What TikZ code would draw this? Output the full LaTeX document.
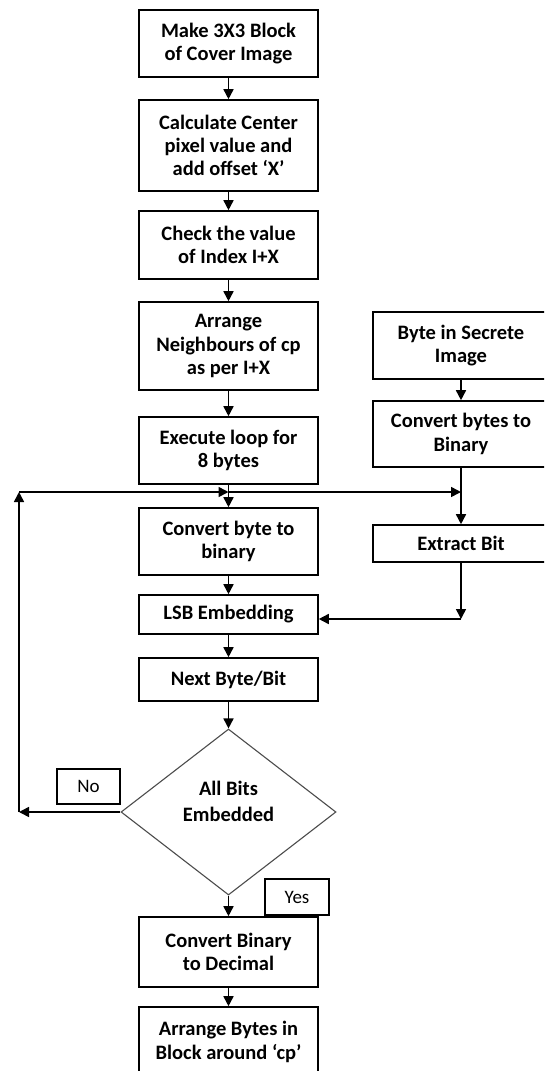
\documentclass[tikz,border=0pt]{standalone}
\usepackage{fontspec}
\setmainfont{Carlito}
\usetikzlibrary{arrows.meta,shapes.geometric}
\tikzset{
  box/.style={draw=black, line width=1.6pt, rectangle, minimum width=179pt, inner sep=0pt, align=center, font=\bfseries\fontsize{20.5}{23.3}\selectfont},
  rbox/.style={box, minimum width=176pt},
  lbl/.style={draw=black, line width=1.4pt, rectangle, inner sep=0pt, align=center, font=\fontsize{19}{22}\selectfont},
  dec/.style={draw=black!70, line width=1.1pt, diamond, aspect=1.3, inner sep=0pt, minimum width=215pt, minimum height=166pt, align=center, font=\bfseries\fontsize{20.5}{26}\selectfont},
  arr/.style={line width=1.6pt, -{Triangle[length=10pt,width=10pt]}}
}
\begin{document}
\begin{tikzpicture}[x=1pt,y=-1pt]
\useasboundingbox (0,0) rectangle (544,1071);
\clip (0,0) rectangle (544,1071);
\fill[white] (0,0) rectangle (544,1071);
% left column
\node[box, minimum height=67pt] (b1) at (228.5,43.5) {Make 3X3 Block\\of Cover Image};
\node[box, minimum height=91pt] (b2) at (228.5,145.5) {Calculate Center\\pixel value and\\add offset ‘X’};
\node[box, minimum height=68pt] (b3) at (228.5,245) {Check the value\\of Index I+X};
\node[box, minimum height=88pt] (b4) at (228.5,346) {Arrange\\Neighbours of cp\\as per I+X};
\node[box, minimum height=67pt] (b5) at (228.5,450.5) {Execute loop for\\8 bytes};
\node[box, minimum height=67pt] (b6) at (228.5,541.5) {Convert byte to\\binary};
\node[box, minimum height=39pt] (b7) at (228.5,614.5) {LSB Embedding};
\node[box, minimum height=43pt] (b8) at (228.5,679.5) {Next Byte/Bit};
\node[dec] (d) at (228.5,812) {All Bits\\Embedded\\[-4pt]};
\node[box, minimum height=70pt] (b9) at (228.5,952) {Convert Binary\\to Decimal};
\node[box, minimum height=70pt] (b10) at (228.5,1042) {Arrange Bytes in\\Block around ‘cp’};
% right column
\node[rbox, minimum height=67pt] (r1) at (461,345.5) {Byte in Secrete\\Image};
\node[rbox, minimum height=66pt] (r2) at (461,434) {Convert bytes to\\Binary};
\node[rbox, minimum height=37pt] (r3) at (461,543.5) {Extract Bit};
% labels
\node[lbl, minimum width=63pt, minimum height=35pt] (no) at (88.5,786.5) {No};
\node[lbl, minimum width=64pt, minimum height=36pt] (yes) at (297,897) {Yes};
% helper coordinates
\coordinate (lc) at (19,812);
\coordinate (lt) at (19,492);
\coordinate (mj) at (228.5,492);
\coordinate (rj) at (461,492);
\coordinate (rc) at (461,619);
% connectors
\draw[arr] (b1) -- (b2);
\draw[arr] (b2) -- (b3);
\draw[arr] (b3) -- (b4);
\draw[arr] (b4) -- (b5);
\draw[arr] (b5) -- (b6);
\draw[arr] (b6) -- (b7);
\draw[arr] (b7) -- (b8);
\draw[arr] (b8) -- (d.north);
\draw[arr] (d.south) -- (b9);
\draw[arr] (b9) -- (b10);
\draw[arr] (d.west) -- (lc);
\draw[arr] (lc) -- (lt);
\draw[arr] (lt) -- (mj);
\draw[arr] (mj) -- (rj);
\draw[arr] (r1) -- (r2);
\draw[arr] (r2) -- (r3);
\draw[arr] (r3) -- (rc);
\draw[arr] (rc) -- (b7.east |- rc);
\end{tikzpicture}
\end{document}
